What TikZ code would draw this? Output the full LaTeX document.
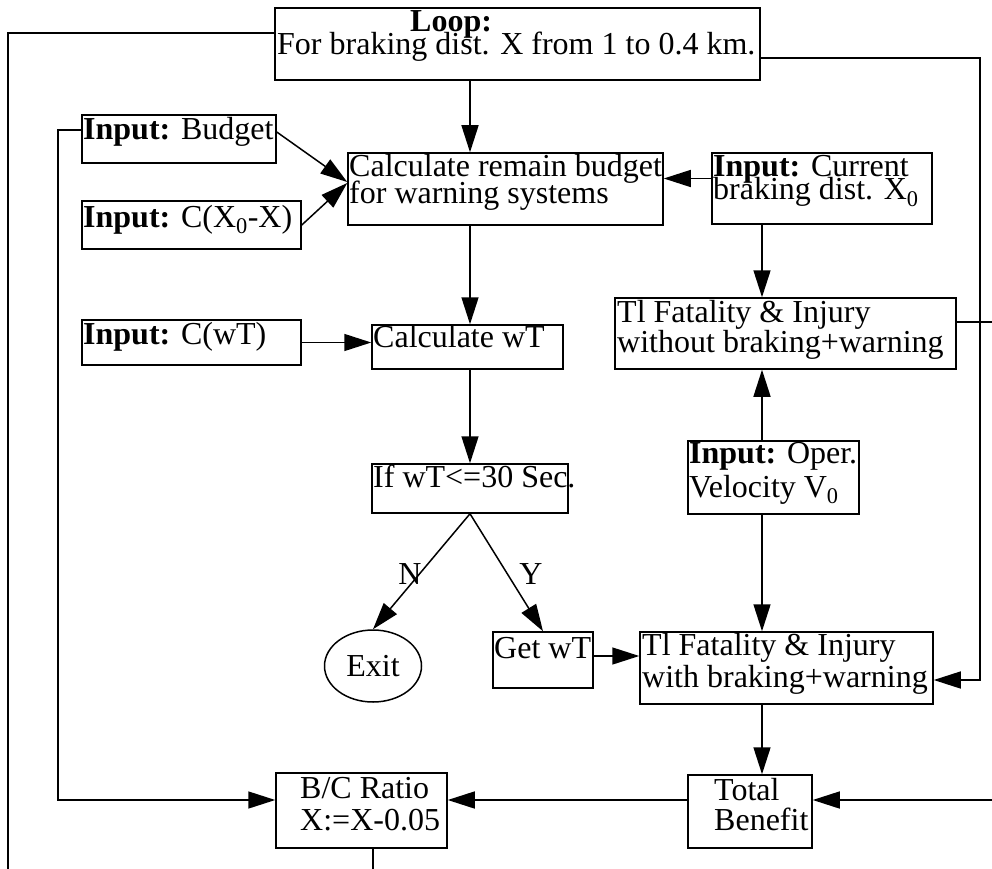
\documentclass[tikz,border=0pt]{standalone}
\usepackage{fontspec}
\setmainfont{Liberation Serif}
\usetikzlibrary{arrows.meta,shapes.geometric}
\newcommand\twol[3]{\vtop{\baselineskip=#1pt\lineskiplimit=-100pt\hbox{#2}\hbox{#3}}}
\begin{document}
\begin{tikzpicture}[x=1pt,y=-1pt,
  box/.style={draw, line width=1.5pt, inner sep=0pt},
  txt/.style={inner sep=0pt, font=\fontsize{32}{27}\selectfont},
  ln/.style={line width=1.5pt},
  arr/.style={line width=1.5pt, -{Triangle[length=27pt,width=17pt]}}]
\useasboundingbox (0,0) rectangle (992,869);
% helper coordinates
\coordinate (colA) at (470,0);
\coordinate (colB) at (762,0);
\coordinate (mx) at (58,0);
\coordinate (rx) at (980,0);
\coordinate (bot1) at (8,869);
\coordinate (bot2) at (373,869);
\coordinate (redge1) at (992,322);
\coordinate (redge2) at (992,800);
% boxes
\node[box, minimum width=485pt, minimum height=72pt] (loop) at (517.5,44) {};
\node[box, minimum width=194pt, minimum height=48pt] (budget) at (179,139) {};
\node[box, minimum width=219pt, minimum height=48pt] (cxx) at (191.5,225) {};
\node[box, minimum width=315pt, minimum height=72pt] (calcb) at (505.5,189) {};
\node[box, minimum width=220pt, minimum height=71pt] (current) at (822,188.5) {};
\node[box, minimum width=219pt, minimum height=45pt] (icwt) at (191.5,342.5) {};
\node[box, minimum width=191pt, minimum height=44pt] (cwt) at (467.5,347) {};
\node[box, minimum width=196pt, minimum height=49pt] (ifn) at (470,488.5) {};
\node[box, minimum width=341pt, minimum height=71pt] (without) at (785.5,333.5) {};
\node[box, minimum width=171pt, minimum height=73pt] (oper) at (773.5,477.5) {};
\node[box, ellipse, minimum width=97pt, minimum height=72pt, font=\fontsize{32}{27}\selectfont] (exit) at (373,666) {Exit};
\node[box, minimum width=100pt, minimum height=56pt] (getwt) at (543,660) {};
\node[box, minimum width=293pt, minimum height=72pt] (with) at (786.5,668) {};
\node[box, minimum width=124pt, minimum height=73pt] (total) at (750,811.5) {};
\node[box, minimum width=171pt, minimum height=75pt] (bc) at (361.5,810.5) {};
% texts
\node[txt,anchor=base west] (t-loop0) at (410,32) {\textbf{Loop:}};
\node[txt,anchor=base west] (t-loop) at (277,55) {For braking dist. X from 1 to 0.4 km.};
\node[txt,anchor=base west] (t-bud) at (83,140) {\textbf{Input:} Budget};
\node[txt,anchor=base west] (t-cxx) at (83,227) {\textbf{Input:} C(X\textsubscript{0}-X)};
\node[txt,anchor=base west] (t-calcb) at (349,177) {\twol{26}{Calculate remain budget}{for warning systems}};
\node[txt,anchor=base west] (t-cur) at (713,177) {\twol{23}{\textbf{Input:} Current}{braking dist. X\textsubscript{0}}};
\node[txt,anchor=base west] (t-icwt) at (83,344) {\textbf{Input:} C(wT)};
\node[txt,anchor=base west] (t-cwt) at (373,347) {Calculate wT};
\node[txt,anchor=base west] (t-if) at (373,487) {If wT<=30 Sec.};
\node[txt,anchor=base west] (t-wo) at (617,322) {\twol{30}{Tl Fatality \& Injury}{without braking+warning}};
\node[txt,anchor=base west] (t-op) at (689,463) {\twol{34}{\textbf{Input:} Oper.}{Velocity V\textsubscript{0}}};
\node[txt,anchor=base west] (t-get) at (494,658) {Get wT};
\node[txt,anchor=base west] (t-with) at (642,655) {\twol{32}{Tl Fatality \& Injury}{with braking+warning}};
\node[txt,anchor=base west] (t-tot) at (714,800) {\twol{30}{Total}{Benefit}};
\node[txt,anchor=base west] (t-bc) at (300,798) {\twol{32}{B/C Ratio}{X:=X-0.05}};
\node[txt] (lN) at (410,574) {N};
\node[txt] (lY) at (531,574) {Y};
% connectors
\coordinate (bcin) at ([yshift=10.5pt]bc.west);
\coordinate (wein) at ([yshift=-12pt]with.east);
\draw[arr] (loop.south -| colA) -- (calcb.north -| colA);
\draw[arr] ([yshift=7pt]budget.east) -- ([yshift=7pt]calcb.west);
\draw[arr] (cxx.east) -- ([yshift=6pt]calcb.west);
\draw[arr] ([yshift=10pt]current.west) -- ([yshift=10pt]current.west -| calcb.east);
\draw[arr] (calcb.south -| colA) -- (cwt.north -| colA);
\draw[arr] (icwt.east) -- (icwt.east -| cwt.west);
\draw[arr] (cwt.south -| colA) -- (ifn.north -| colA);
\draw[arr] (ifn.south) -- (exit.north);
\draw[arr] (ifn.south) -- (getwt.north);
\draw[arr] ([yshift=4pt]getwt.east) -- ([yshift=4pt]getwt.east -| with.west);
\draw[arr] (current.south -| colB) -- (without.north -| colB);
\draw[arr] (oper.north -| colB) -- (without.south -| colB);
\draw[arr] (oper.south -| colB) -- (with.north -| colB);
\draw[arr] (with.south -| colB) -- (total.north -| colB);
\draw[arr] ([yshift=11.5pt]total.west) -- ([yshift=11.5pt]total.west -| bc.east);
\draw[arr] (redge2) -- (redge2 -| total.east);
\draw[arr] ([yshift=9pt]budget.west) -| (mx |- bcin) -- (bcin);
\draw[ln] ([yshift=11pt]loop.west) -| (bot1);
\draw[arr] ([yshift=-14pt]loop.east) -| (rx |- wein) -- (wein);
\draw[ln] ([yshift=11.5pt]without.east) -- (redge1);
\draw[ln] (bot2 |- bc.south) -- (bot2);
\end{tikzpicture}
\end{document}
